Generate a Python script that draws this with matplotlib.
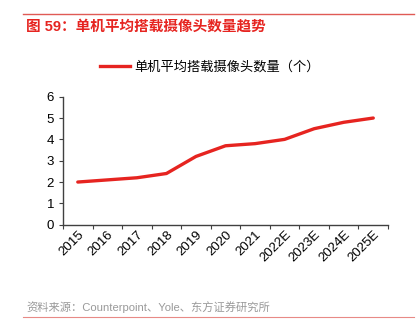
import numpy as np
import matplotlib.pyplot as plt
from matplotlib.lines import Line2D

plt.rcParams['font.family'] = ['Liberation Sans', 'Noto Sans CJK SC']

#   Data
years = ['2015', '2016', '2017', '2018', '2019', '2020', '2021',
         '2022E', '2023E', '2024E', '2025E']
cameras = [2.0, 2.1, 2.2, 2.4, 3.2, 3.7, 3.8, 4.0, 4.5, 4.8, 5.0]
series_name = '单机平均搭载摄像头数量（个）'
title = '图 59：单机平均搭载摄像头数量趋势'
source = '资料来源：Counterpoint、Yole、东方证券研究所'

red = '#e62420'

fig = plt.figure(figsize=(4.19, 3.33), dpi=100)
ax = fig.add_axes([0.1504, 0.3252, 0.7757, 0.3844])

x = np.arange(len(years))
ax.plot(x, cameras, color=red, lw=2.4, solid_capstyle='round')

ax.set_xlim(-0.5, len(years) - 0.5)
ax.set_ylim(0, 6)
ax.set_yticks(range(0, 7))
#   Ticks at category borders, labels at centers
ax.set_xticks(np.arange(-0.5, len(years)), labels=[])
ax.set_xticks(x, labels=years, minor=True)
ax.tick_params(axis='x', which='minor', length=0, pad=3)
ax.tick_params(axis='both', which='major', direction='out', length=3,
               color='#404040', labelsize=9.5)
ax.tick_params(axis='x', which='minor', labelsize=9.5)
for lab in ax.get_xticklabels(minor=True):
    lab.set_rotation(45)
    lab.set_ha('right')
    lab.set_va('top')
    lab.set_rotation_mode('anchor')

for s in ['top', 'right']:
    ax.spines[s].set_visible(False)
for s in ['left', 'bottom']:
    ax.spines[s].set_color('#404040')
    ax.spines[s].set_linewidth(1.0)

#   Title and frame lines
fig.add_artist(Line2D([23/419, 414/419], [1 - 14/333, 1 - 14/333],
                      color='#e05a55', lw=1.0))
fig.text(26/419, 1 - 27/333, title, color=red, fontsize=10.5,
         fontweight='bold', va='center', ha='left')

#   Legend
leg = fig.legend([Line2D([0], [0], color=red, lw=2.4)], [series_name],
                 loc='center', bbox_to_anchor=(0.5, 1 - 67/333), frameon=False,
                 fontsize=9.5, handlelength=2.3, handletextpad=0.3)

fig.text(26/419, 1 - 307/333, source, color='#9a9a9a', fontsize=8.1,
         va='center', ha='left')
fig.add_artist(Line2D([23/419, 414/419], [1 - 317/333, 1 - 317/333],
                      color='#e88a86', lw=0.8))

fig.savefig('out.png', dpi=100, facecolor='white')
